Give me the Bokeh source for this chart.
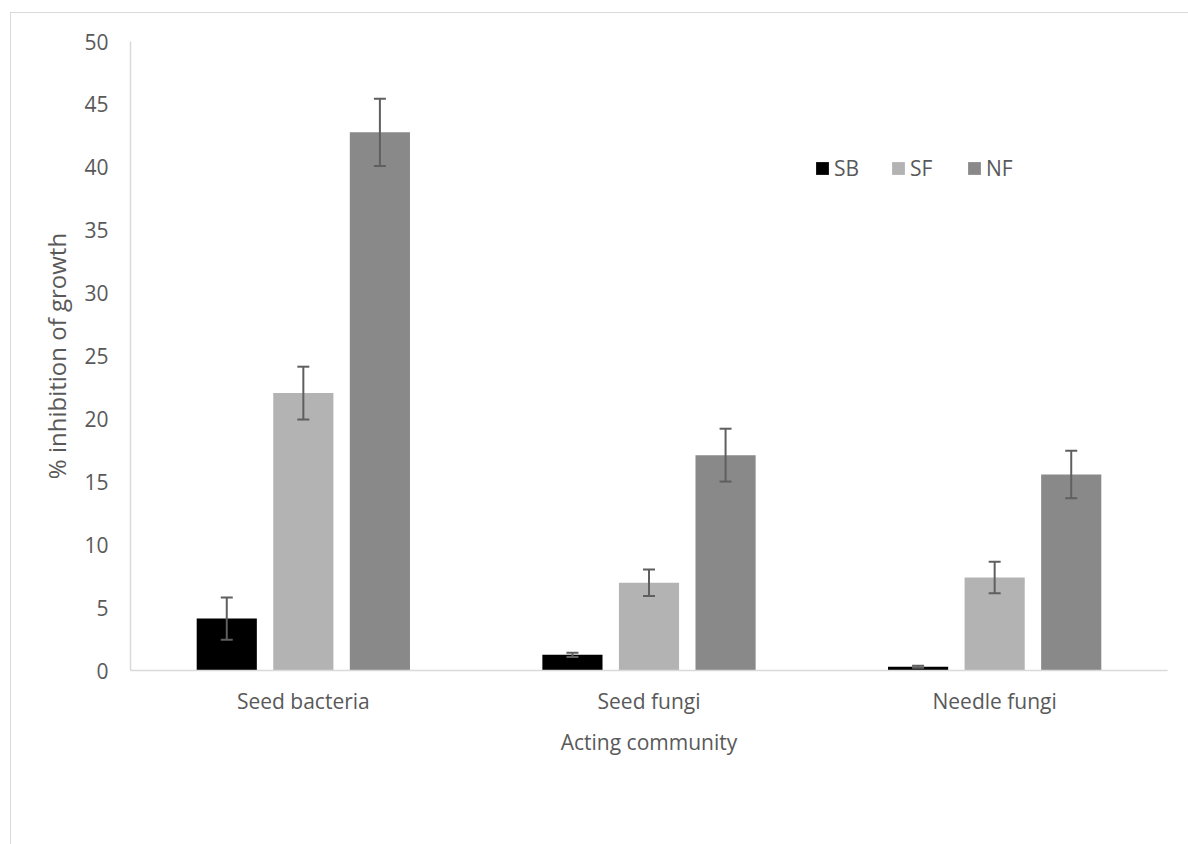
from bokeh.plotting import figure
from bokeh.models import (FactorRange, Range1d, ColumnDataSource, Whisker, TeeHead,
                          Legend, LegendItem)
from bokeh.transform import dodge
from bokeh.embed import file_html
from bokeh.resources import INLINE

# Acting communities on the x axis
communities = ["Seed bacteria", "Seed fungi", "Needle fungi"]

# Target series (% inhibition of growth) with standard errors
series_names = ["SB", "SF", "NF"]
sb_mean = [4.13, 1.25, 0.30]
sb_err = [1.68, 0.17, 0.08]
sf_mean = [22.05, 6.98, 7.40]
sf_err = [2.10, 1.05, 1.25]
nf_mean = [42.78, 17.12, 15.58]
nf_err = [2.67, 2.10, 1.88]

y_ticks = [0, 5, 10, 15, 20, 25, 30, 35, 40, 45, 50]

colors = ["#000000", "#b3b3b3", "#898989"]
offsets = [-0.2215, 0.0, 0.2215]
bar_width = 0.174

FONT = "Open Sans"
TEXT = "#595959"
AXIS = "#d9d9d9"
ERR = "#5f5f5f"

p = figure(width=1178, height=832,
           x_range=FactorRange(*communities, range_padding=0),
           y_range=Range1d(0, 50),
           output_backend="svg", toolbar_location=None,
           min_border_left=119, min_border_right=22,
           min_border_top=28, min_border_bottom=175)
# chart-area border on the left and top edges
p.styles = {"margin-left": "10px", "margin-top": "12px",
            "border-left": "1.5px solid #d9d9d9", "border-top": "1.5px solid #d9d9d9"}
p.outline_line_color = None
p.xgrid.grid_line_color = None
p.ygrid.grid_line_color = None
p.background_fill_color = "white"
p.border_fill_color = "white"

means = [sb_mean, sf_mean, nf_mean]
errs = [sb_err, sf_err, nf_err]
renderers = []
for name, m, e, col, off in zip(series_names, means, errs, colors, offsets):
    src = ColumnDataSource(dict(cat=communities, val=m,
                                upper=[a + b for a, b in zip(m, e)],
                                lower=[a - b for a, b in zip(m, e)]))
    r = p.vbar(x=dodge("cat", off, range=p.x_range), top="val", bottom=0,
               width=bar_width, source=src, fill_color=col, line_color=None)
    renderers.append(r)
    w = Whisker(base=dodge("cat", off, range=p.x_range), upper="upper", lower="lower",
                source=src, line_color=ERR, line_width=2, level="overlay",
                upper_head=TeeHead(size=12, line_color=ERR, line_width=2),
                lower_head=TeeHead(size=12, line_color=ERR, line_width=2))
    p.add_layout(w)

# axes
p.yaxis.ticker = y_ticks
for ax in (p.xaxis[0], p.yaxis[0]):
    ax.axis_line_color = AXIS
    ax.axis_line_width = 1.5
    ax.major_tick_line_color = None
    ax.minor_tick_line_color = None
    ax.major_label_text_font = FONT
    ax.major_label_text_font_size = "21px"
    ax.major_label_text_color = TEXT
    ax.axis_label_text_font = FONT
    ax.axis_label_text_font_style = "normal"
    ax.axis_label_text_color = TEXT

p.yaxis.axis_label = "% inhibition of growth"
p.yaxis.axis_label_text_font_size = "24px"
p.yaxis.major_label_standoff = 16
p.yaxis.axis_label_standoff = 8
p.xaxis.axis_label = "Acting community"
p.xaxis.axis_label_text_font_size = "21px"
p.xaxis.major_label_standoff = 10
p.xaxis.axis_label_standoff = 10

legend = Legend(items=[LegendItem(label=n, renderers=[r]) for n, r in zip(series_names, renderers)],
                orientation="horizontal", location=(684, 488),
                glyph_width=16, glyph_height=16, label_standoff=4,
                label_width=56, spacing=0, padding=0, margin=0,
                border_line_color=None, background_fill_alpha=0,
                label_text_font=FONT, label_text_font_size="21px",
                label_text_color=TEXT)
p.add_layout(legend)

open("out.html", "w").write(file_html(p, INLINE))
